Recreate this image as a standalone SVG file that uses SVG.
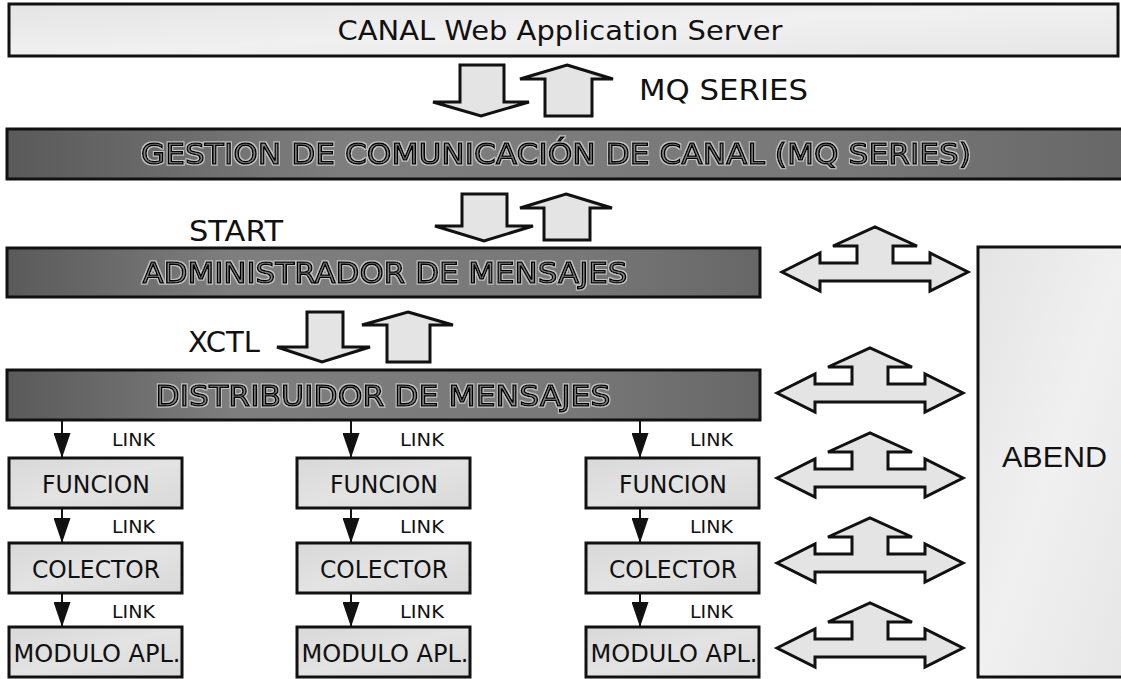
<svg xmlns="http://www.w3.org/2000/svg" width="1121" height="679" viewBox="0 0 1121 679">
<style>
.v{font-family:"DejaVu Sans","Verdana",sans-serif;fill:#111}
.a{font-family:"Liberation Sans","Arial",sans-serif;fill:#111}
.bar{stroke:#111;stroke-width:3;fill:url(#dark)}
.box{stroke:#111;stroke-width:3;fill:url(#light)}
.big{stroke:#111;stroke-width:3;fill:#e4e4e4;stroke-linejoin:miter}
.bt{font-family:"DejaVu Sans","Verdana",sans-serif;font-size:28px;fill:#858585;stroke:#000;stroke-width:1.4;filter:url(#halo)}
.lk{font-size:17px}
.bx{font-size:25px;text-anchor:middle}
.ln{stroke:#111;stroke-width:2;fill:none;marker-end:url(#tri)}
</style>
<defs>
<linearGradient id="dark" x1="0" y1="0" x2="1" y2="0">
<stop offset="0" stop-color="#5a5a5a"/>
<stop offset="0.3" stop-color="#7e7e7e"/>
<stop offset="0.75" stop-color="#787878"/>
<stop offset="1" stop-color="#676767"/>
</linearGradient>
<linearGradient id="light" x1="0" y1="0" x2="1" y2="1">
<stop offset="0" stop-color="#d8d8d8"/>
<stop offset="0.5" stop-color="#e3e3e3"/>
<stop offset="1" stop-color="#d8d8d8"/>
</linearGradient>
<linearGradient id="pale" x1="0" y1="0" x2="1" y2="1">
<stop offset="0" stop-color="#e4e4e4"/>
<stop offset="0.5" stop-color="#f0f0f0"/>
<stop offset="1" stop-color="#e6e6e6"/>
</linearGradient>
<filter id="halo" x="-5%" y="-30%" width="110%" height="160%">
<feMorphology in="SourceAlpha" operator="dilate" radius="1.3" result="d"/>
<feFlood flood-color="#c4c4c4"/>
<feComposite in2="d" operator="in" result="h"/>
<feMerge><feMergeNode in="h"/><feMergeNode in="SourceGraphic"/></feMerge>
</filter>
<marker id="tri" viewBox="0 0 25 17" refX="25" refY="8.5" markerWidth="25" markerHeight="17" markerUnits="userSpaceOnUse" orient="auto">
<path d="M0,0 L25,8.5 L0,17 Z" fill="#111"/>
</marker>
<path id="tri3" class="big" d="M-93,0 L-55,-19 L-55,-9 L-18,-9 L-18,-26 L-42,-26 L0,-45 L42,-26 L18,-26 L18,-9 L55,-9 L55,-19 L93,0 L55,19 L55,9 L-55,9 L-55,19 Z"/>
</defs>

<g id="web-server">
<rect x="9" y="4" width="1109" height="52" stroke="#111" stroke-width="3" fill="url(#pale)"/>
<text class="v" x="560" y="40" font-size="27" text-anchor="middle" textLength="445" lengthAdjust="spacingAndGlyphs">CANAL Web Application Server</text>
</g>

<g id="gestion">
<rect class="bar" x="7" y="129" width="1120" height="50"/>
<text class="bt" x="556" y="164" text-anchor="middle" textLength="830" lengthAdjust="spacingAndGlyphs">GESTION DE COMUNICACIÓN DE CANAL (MQ SERIES)</text>
</g>

<g id="administrador">
<rect class="bar" x="7" y="248" width="753" height="49"/>
<text class="bt" x="385" y="283" text-anchor="middle" textLength="485" lengthAdjust="spacingAndGlyphs">ADMINISTRADOR DE MENSAJES</text>
</g>

<g id="distribuidor">
<rect class="bar" x="7" y="370" width="753" height="50"/>
<text class="bt" x="383" y="406" text-anchor="middle" textLength="455" lengthAdjust="spacingAndGlyphs">DISTRIBUIDOR DE MENSAJES</text>
</g>

<g id="abend">
<rect x="978" y="247" width="150" height="430" stroke="#111" stroke-width="3" fill="url(#pale)"/>
<text class="a" x="1002" y="467" font-size="29" textLength="105" lengthAdjust="spacingAndGlyphs">ABEND</text>
</g>

<g id="col1">
<g id="funcion-1"><rect class="box" x="9" y="458" width="173" height="50"/><text class="v bx" x="96" y="493" textLength="108" lengthAdjust="spacingAndGlyphs">FUNCION</text></g>
<g id="colector-1"><rect class="box" x="9" y="543" width="173" height="50"/><text class="v bx" x="96" y="578" textLength="128" lengthAdjust="spacingAndGlyphs">COLECTOR</text></g>
<g id="modulo-1"><rect class="box" x="9" y="627" width="173" height="50"/><text class="v bx" x="97" y="662" textLength="167" lengthAdjust="spacingAndGlyphs">MODULO APL.</text></g>
</g>
<g id="col2">
<g id="funcion-2"><rect class="box" x="297" y="458" width="173" height="50"/><text class="v bx" x="384" y="493" textLength="108" lengthAdjust="spacingAndGlyphs">FUNCION</text></g>
<g id="colector-2"><rect class="box" x="297" y="543" width="173" height="50"/><text class="v bx" x="384" y="578" textLength="128" lengthAdjust="spacingAndGlyphs">COLECTOR</text></g>
<g id="modulo-2"><rect class="box" x="297" y="627" width="173" height="50"/><text class="v bx" x="385" y="662" textLength="167" lengthAdjust="spacingAndGlyphs">MODULO APL.</text></g>
</g>
<g id="col3">
<g id="funcion-3"><rect class="box" x="586" y="458" width="173" height="50"/><text class="v bx" x="673" y="493" textLength="108" lengthAdjust="spacingAndGlyphs">FUNCION</text></g>
<g id="colector-3"><rect class="box" x="586" y="543" width="173" height="50"/><text class="v bx" x="673" y="578" textLength="128" lengthAdjust="spacingAndGlyphs">COLECTOR</text></g>
<g id="modulo-3"><rect class="box" x="586" y="627" width="173" height="50"/><text class="v bx" x="674" y="662" textLength="167" lengthAdjust="spacingAndGlyphs">MODULO APL.</text></g>
</g>

<g id="connectors">
<path class="big" d="M460,65 L504,65 L504,102 L529,102 L481,116 L433,102 L460,102 Z"/>
<path class="big" d="M567,65 L613,79 L592,79 L592,116 L545,116 L545,79 L520,79 Z"/>
<text class="v" x="639" y="100" font-size="29" textLength="169" lengthAdjust="spacingAndGlyphs">MQ SERIES</text>

<path class="big" d="M462,194 L507,194 L507,226 L533,226 L484,241 L435,226 L462,226 Z"/>
<path class="big" d="M566,194 L612,208 L590,208 L590,240 L544,240 L544,208 L520,208 Z"/>
<text class="v" x="189" y="241" font-size="29" textLength="94" lengthAdjust="spacingAndGlyphs">START</text>

<path class="big" d="M307,312 L343,312 L343,347 L370,347 L322,362 L277,347 L307,347 Z"/>
<path class="big" d="M408,312 L453,325 L430,325 L430,362 L387,362 L387,325 L362,325 Z"/>
<text class="v" x="188" y="352" font-size="29" textLength="72" lengthAdjust="spacingAndGlyphs">XCTL</text>

<line class="ln" x1="62" y1="421" x2="62" y2="458"/>
<line class="ln" x1="62" y1="509" x2="62" y2="543"/>
<line class="ln" x1="62" y1="594" x2="62" y2="627"/>
<line class="ln" x1="351" y1="421" x2="351" y2="458"/>
<line class="ln" x1="351" y1="509" x2="351" y2="543"/>
<line class="ln" x1="351" y1="594" x2="351" y2="627"/>
<line class="ln" x1="640" y1="421" x2="640" y2="458"/>
<line class="ln" x1="640" y1="509" x2="640" y2="543"/>
<line class="ln" x1="640" y1="594" x2="640" y2="627"/>

<text class="v lk" x="112" y="446" textLength="43" lengthAdjust="spacingAndGlyphs">LINK</text>
<text class="v lk" x="112" y="533" textLength="43" lengthAdjust="spacingAndGlyphs">LINK</text>
<text class="v lk" x="112" y="618" textLength="43" lengthAdjust="spacingAndGlyphs">LINK</text>
<text class="v lk" x="400" y="446" textLength="44" lengthAdjust="spacingAndGlyphs">LINK</text>
<text class="v lk" x="400" y="533" textLength="44" lengthAdjust="spacingAndGlyphs">LINK</text>
<text class="v lk" x="400" y="618" textLength="44" lengthAdjust="spacingAndGlyphs">LINK</text>
<text class="v lk" x="690" y="446" textLength="43" lengthAdjust="spacingAndGlyphs">LINK</text>
<text class="v lk" x="690" y="533" textLength="43" lengthAdjust="spacingAndGlyphs">LINK</text>
<text class="v lk" x="690" y="618" textLength="43" lengthAdjust="spacingAndGlyphs">LINK</text>

<use href="#tri3" x="875" y="272"/>
<use href="#tri3" x="870" y="393"/>
<use href="#tri3" x="870" y="478"/>
<use href="#tri3" x="870" y="563"/>
<use href="#tri3" x="870" y="648"/>
</g>
</svg>
